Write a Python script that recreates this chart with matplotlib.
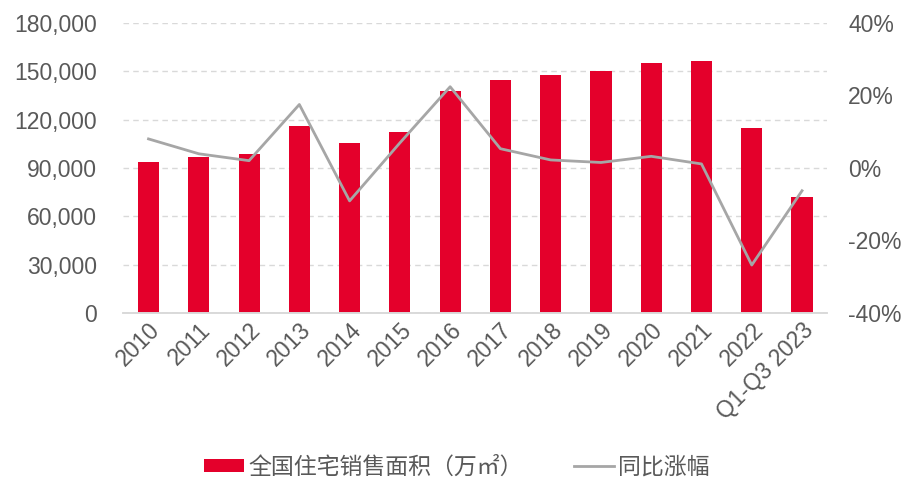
import matplotlib
matplotlib.use("Agg")
import matplotlib.pyplot as plt
from matplotlib.ticker import FuncFormatter

plt.rcParams['font.family'] = ['Liberation Sans', 'Noto Sans CJK SC', 'DejaVu Sans']

years = ["2010", "2011", "2012", "2013", "2014", "2015", "2016", "2017",
         "2018", "2019", "2020", "2021", "2022", "Q1-Q3 2023"]
# 全国住宅销售面积 (万㎡)
area = [93377, 96528, 98468, 115723, 105188, 112412, 137540, 144789,
        147929, 150144, 154878, 156532, 114631, 72123]
# 同比涨幅 (%)
yoy = [8.0, 3.9, 2.0, 17.5, -9.1, 6.9, 22.4, 5.3, 2.2, 1.5, 3.2, 1.1, -26.8, -6.3]

red = "#E4002B"
grey = "#A6A6A6"
txt = "#595959"

fig, ax = plt.subplots(figsize=(9.14, 4.99), dpi=100)
fig.subplots_adjust(left=0.135, right=0.905, top=0.954, bottom=0.373)

x = list(range(len(years)))
ax.bar(x, area, width=0.42, color=red, label="全国住宅销售面积（万㎡）", zorder=2)
ax.set_ylim(0, 180000)
ax.set_yticks(range(0, 180001, 30000))
ax.yaxis.set_major_formatter(FuncFormatter(lambda v, p: f"{int(v):,}"))
ax.set_xlim(-0.5, len(years) - 0.5)
ax.set_xticks(x)
ax.set_xticklabels(years, rotation=45, ha="right", rotation_mode="anchor")
ax.grid(axis="y", color="#D9D9D9", linestyle=(0, (4, 3)), linewidth=1, zorder=0)
ax.set_axisbelow(True)

ax2 = ax.twinx()
ax2.plot(x, yoy, color=grey, linewidth=2, label="同比涨幅", zorder=3)
ax2.set_ylim(-40, 40)
ax2.set_yticks(range(-40, 41, 20))
ax2.yaxis.set_major_formatter(FuncFormatter(lambda v, p: f"{int(v)}%"))

for a in (ax, ax2):
    for s in ("top", "left", "right"):
        a.spines[s].set_visible(False)
    a.spines["bottom"].set_color("#D9D9D9")
    a.spines["bottom"].set_linewidth(1.2)
    a.tick_params(length=0, labelsize=16.5, colors=txt)
ax.tick_params(axis="y", pad=19)
ax2.tick_params(axis="y", pad=15)
ax.tick_params(axis="x", pad=4)

h1, l1 = ax.get_legend_handles_labels()
h2, l2 = ax2.get_legend_handles_labels()
fig.legend(h1 + h2, l1 + l2, loc="center", bbox_to_anchor=(0.5, 0.064), ncol=2,
           frameon=False, labelcolor=txt, handlelength=1.75, handleheight=0.5,
           handletextpad=0.2, columnspacing=2.2,
           prop={'family': ['Noto Sans CJK SC', 'DejaVu Sans'], 'size': 16.5})

fig.savefig("out.png", dpi=100)
